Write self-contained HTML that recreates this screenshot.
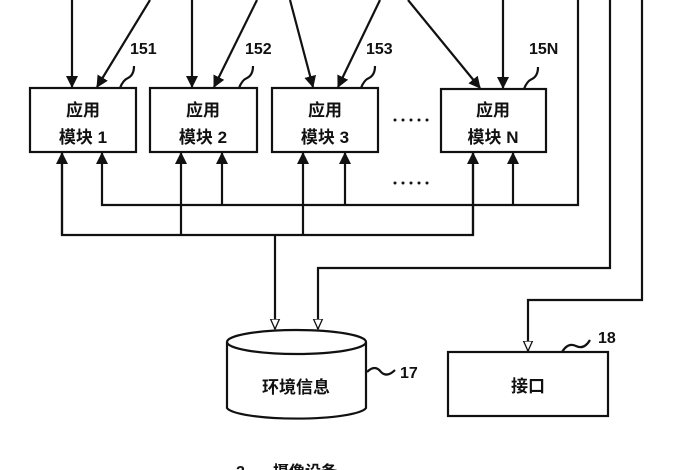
<!DOCTYPE html>
<html><head><meta charset="utf-8"><style>
body{margin:0;background:#fff}
svg{display:block}
text{font-family:"Liberation Sans","Noto Sans CJK SC",sans-serif;font-weight:bold;fill:#111}
</style></head><body>
<svg width="700" height="470" viewBox="0 0 700 470" xmlns="http://www.w3.org/2000/svg">
<defs>
<marker id="a" markerWidth="12" markerHeight="12" refX="11" refY="6" orient="auto" markerUnits="userSpaceOnUse"><path d="M0,0 L12,6 L0,12 z" fill="#111"/></marker>
<marker id="h" markerWidth="11" markerHeight="11" refX="10" refY="5.5" orient="auto" markerUnits="userSpaceOnUse"><path d="M0,1 L10,5.5 L0,10 z" fill="#fff" stroke="#111" stroke-width="1.3"/></marker>
</defs>
<g stroke="#111" stroke-width="2.2" fill="none">
<rect x="30" y="88" width="106" height="64"/>
<rect x="150" y="88" width="107" height="64"/>
<rect x="272" y="88" width="106" height="64"/>
<rect x="441" y="89" width="105" height="63"/>
<line x1="72" y1="0" x2="72" y2="87" marker-end="url(#a)"/>
<line x1="150" y1="0" x2="97" y2="87" marker-end="url(#a)"/>
<line x1="192" y1="0" x2="192" y2="87" marker-end="url(#a)"/>
<line x1="257" y1="0" x2="214" y2="87" marker-end="url(#a)"/>
<line x1="290" y1="0" x2="313" y2="87" marker-end="url(#a)"/>
<line x1="380" y1="0" x2="338" y2="87" marker-end="url(#a)"/>
<line x1="408" y1="0" x2="480" y2="88" marker-end="url(#a)"/>
<line x1="503" y1="0" x2="503" y2="88" marker-end="url(#a)"/>
<path d="M120,88 q3,-8 8,-10 q6,-3 6,-12"/>
<path d="M239,88 q3,-8 8,-10 q6,-3 6,-12"/>
<path d="M361,88 q3,-8 8,-10 q6,-3 6,-12"/>
<path d="M524,89 q3,-8 8,-10 q6,-3 6,-12"/>
<polyline points="578,0 578,205 102,205 102,153" marker-end="url(#a)"/>
<line x1="222" y1="205" x2="222" y2="153" marker-end="url(#a)"/>
<line x1="345" y1="205" x2="345" y2="153" marker-end="url(#a)"/>
<line x1="513" y1="205" x2="513" y2="153" marker-end="url(#a)"/>
<polyline points="473,153 473,235 62,235 62,153"/>
<line x1="473" y1="235" x2="473" y2="153" marker-end="url(#a)"/>
<line x1="62" y1="235" x2="62" y2="153" marker-end="url(#a)"/>
<line x1="181" y1="235" x2="181" y2="153" marker-end="url(#a)"/>
<line x1="303" y1="235" x2="303" y2="153" marker-end="url(#a)"/>
<line x1="275" y1="235" x2="275" y2="329" marker-end="url(#h)"/>
<polyline points="610,0 610,268 318,268 318,329" marker-end="url(#h)"/>
<polyline points="642,0 642,300 528,300 528,351" marker-end="url(#h)"/>
<path d="M227,342 L227,408 A70,12 0 0 0 366,408 L366,342"/>
<ellipse cx="296.5" cy="342" rx="69.5" ry="12"/>
<path d="M367,372 q8,-8 14,0 q6,6 14,-2"/>
<rect x="448" y="352" width="160" height="64"/>
<path d="M562,352 q6,-10 14,-6 q8,4 14,-6"/>
</g>
<g fill="#111">
<circle cx="395" cy="120" r="1.5"/><circle cx="403" cy="120" r="1.5"/><circle cx="411" cy="120" r="1.5"/><circle cx="419" cy="120" r="1.5"/><circle cx="427" cy="120" r="1.5"/>
<circle cx="395" cy="183" r="1.5"/><circle cx="403" cy="183" r="1.5"/><circle cx="411" cy="183" r="1.5"/><circle cx="419" cy="183" r="1.5"/><circle cx="427" cy="183" r="1.5"/>
</g>
<g font-size="17" text-anchor="middle">
<text x="83" y="116">应用</text><text x="83" y="143">模块 1</text>
<text x="203" y="116">应用</text><text x="203" y="143">模块 2</text>
<text x="325" y="116">应用</text><text x="325" y="143">模块 3</text>
<text x="493" y="116">应用</text><text x="493" y="143">模块 N</text>
<text x="296" y="393">环境信息</text>
<text x="528" y="392">接口</text>
</g>
<g font-size="16" font-weight="normal">
<text x="130" y="54">151</text>
<text x="245" y="54">152</text>
<text x="366" y="54">153</text>
<text x="529" y="54">15N</text>
<text x="400" y="378">17</text>
<text x="598" y="343">18</text>
<text x="236" y="477">2</text>
<text x="273" y="477">摄像设备</text>
</g>
</svg>
</body></html>
